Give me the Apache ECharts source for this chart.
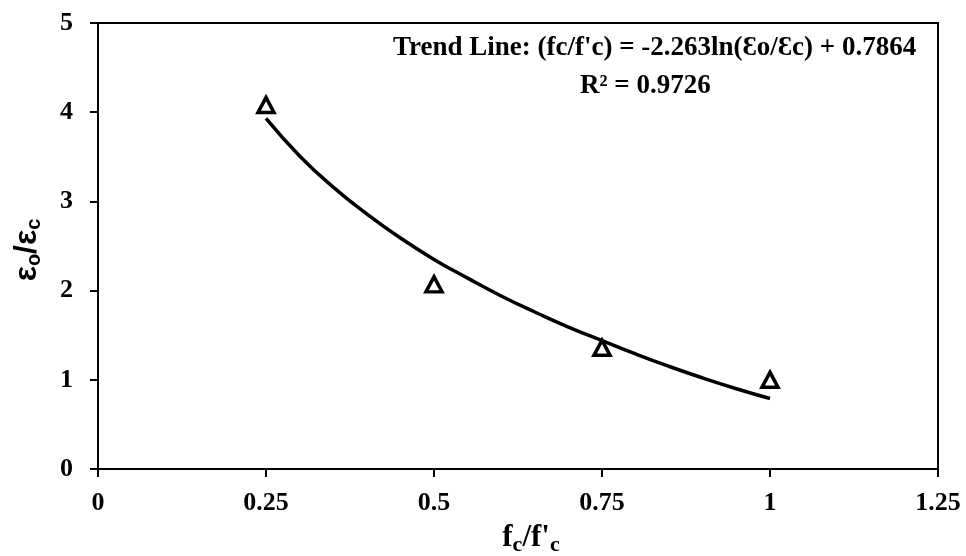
<!DOCTYPE html>
<html>
<head>
<meta charset="utf-8">
<script src="https://cdn.jsdelivr.net/npm/echarts@6/dist/echarts.min.js"></script>
<style>html,body{margin:0;padding:0;background:#fff;}#c{width:966px;height:556px;}</style>
</head>
<body>
<div id="c"></div>
<script>
// Measured points (fc/f'c, εo/εc)
const measuredX = [0.25, 0.5, 0.75, 1.0];
const measuredY = [4.08, 2.07, 1.36, 1.0];
// Trend line
const trendX = [0.25, 0.30, 0.35, 0.40, 0.45, 0.50, 0.55, 0.60, 0.65, 0.70, 0.75, 0.80, 0.85, 0.90, 0.95, 1.00];
const trendY = [3.93, 3.51, 3.16, 2.86, 2.59, 2.35, 2.14, 1.94, 1.76, 1.59, 1.44, 1.29, 1.15, 1.02, 0.90, 0.79];
const xTicks = [0, 0.25, 0.5, 0.75, 1, 1.25];
const yTicks = [0, 1, 2, 3, 4, 5];
const trendText1 = "Trend Line: (fc/f'c) = -2.263ln(Ɛo/Ɛc) + 0.7864";
const trendText2 = "R² = 0.9726";

const chart = echarts.init(document.getElementById('c'));
const serif = '"Liberation Serif", "Times New Roman", serif';
const sans = '"Liberation Sans", Arial, sans-serif';
chart.setOption({
  backgroundColor: '#fff',
  animation: false,
  grid: { left: 98, top: 23, right: 28, bottom: 87, containLabel: false, outerBoundsMode: 'none',
    show: true, borderColor: '#000', borderWidth: 2, backgroundColor: 'transparent' },
  xAxis: {
    type: 'value', min: xTicks[0], max: xTicks[xTicks.length - 1], interval: 0.25,
    axisLine: { show: true, lineStyle: { color: '#000', width: 2 } },
    axisTick: { show: true, inside: false, length: 8, lineStyle: { color: '#000', width: 2 } },
    splitLine: { show: false },
    axisLabel: { color: '#000', fontFamily: serif, fontWeight: 'bold', fontSize: 26, margin: 21,
      formatter: v => String(+v.toFixed(2)) },
    name: "{b|f}{s|c}{b|/f'}{s|c}",
    nameLocation: 'middle', nameGap: 51,
    nameTextStyle: { padding: [0, 0, 0, 26], rich: {
      b: { fontFamily: serif, fontWeight: 'bold', fontSize: 31, color: '#000' },
      s: { fontFamily: serif, fontWeight: 'bold', fontSize: 22, color: '#000', padding: [14, 0, 0, 0] }
    } }
  },
  yAxis: {
    type: 'value', min: yTicks[0], max: yTicks[yTicks.length - 1], interval: 1,
    axisLine: { show: true, lineStyle: { color: '#000', width: 2 } },
    axisTick: { show: true, inside: false, length: 8, lineStyle: { color: '#000', width: 2 } },
    splitLine: { show: false },
    axisLabel: { color: '#000', fontFamily: serif, fontWeight: 'bold', fontSize: 26, margin: 25 },
    name: "{b|ε}{s|o}{b|/ε}{s|c}",
    nameLocation: 'middle', nameGap: 54, nameRotate: 90,
    nameTextStyle: { padding: [0, 8, 0, 0], rich: {
      b: { fontFamily: sans, fontWeight: 'bold', fontSize: 32, color: '#000' },
      s: { fontFamily: sans, fontWeight: 'bold', fontSize: 20, color: '#000', padding: [14, 0, 0, 0] }
    } }
  },
  graphic: [
    { type: 'text', left: 393, top: 35, style: { text: trendText1, font: 'bold 27px ' + serif, fill: '#000' } },
    { type: 'text', left: 580, top: 73, style: { text: trendText2, font: 'bold 27px ' + serif, fill: '#000' } }
  ],
  series: [
    {
      type: 'line', data: trendX.map((x, i) => [x, trendY[i]]), smooth: true, showSymbol: false,
      lineStyle: { color: '#000', width: 3.5 }, z: 2
    },
    {
      type: 'scatter', data: measuredX.map((x, i) => [x, measuredY[i]]), symbol: 'triangle', symbolSize: [16, 15],
      itemStyle: { color: '#fff', borderColor: '#000', borderWidth: 3.5, opacity: 1 }, z: 3
    }
  ]
});
</script>
</body>
</html>
